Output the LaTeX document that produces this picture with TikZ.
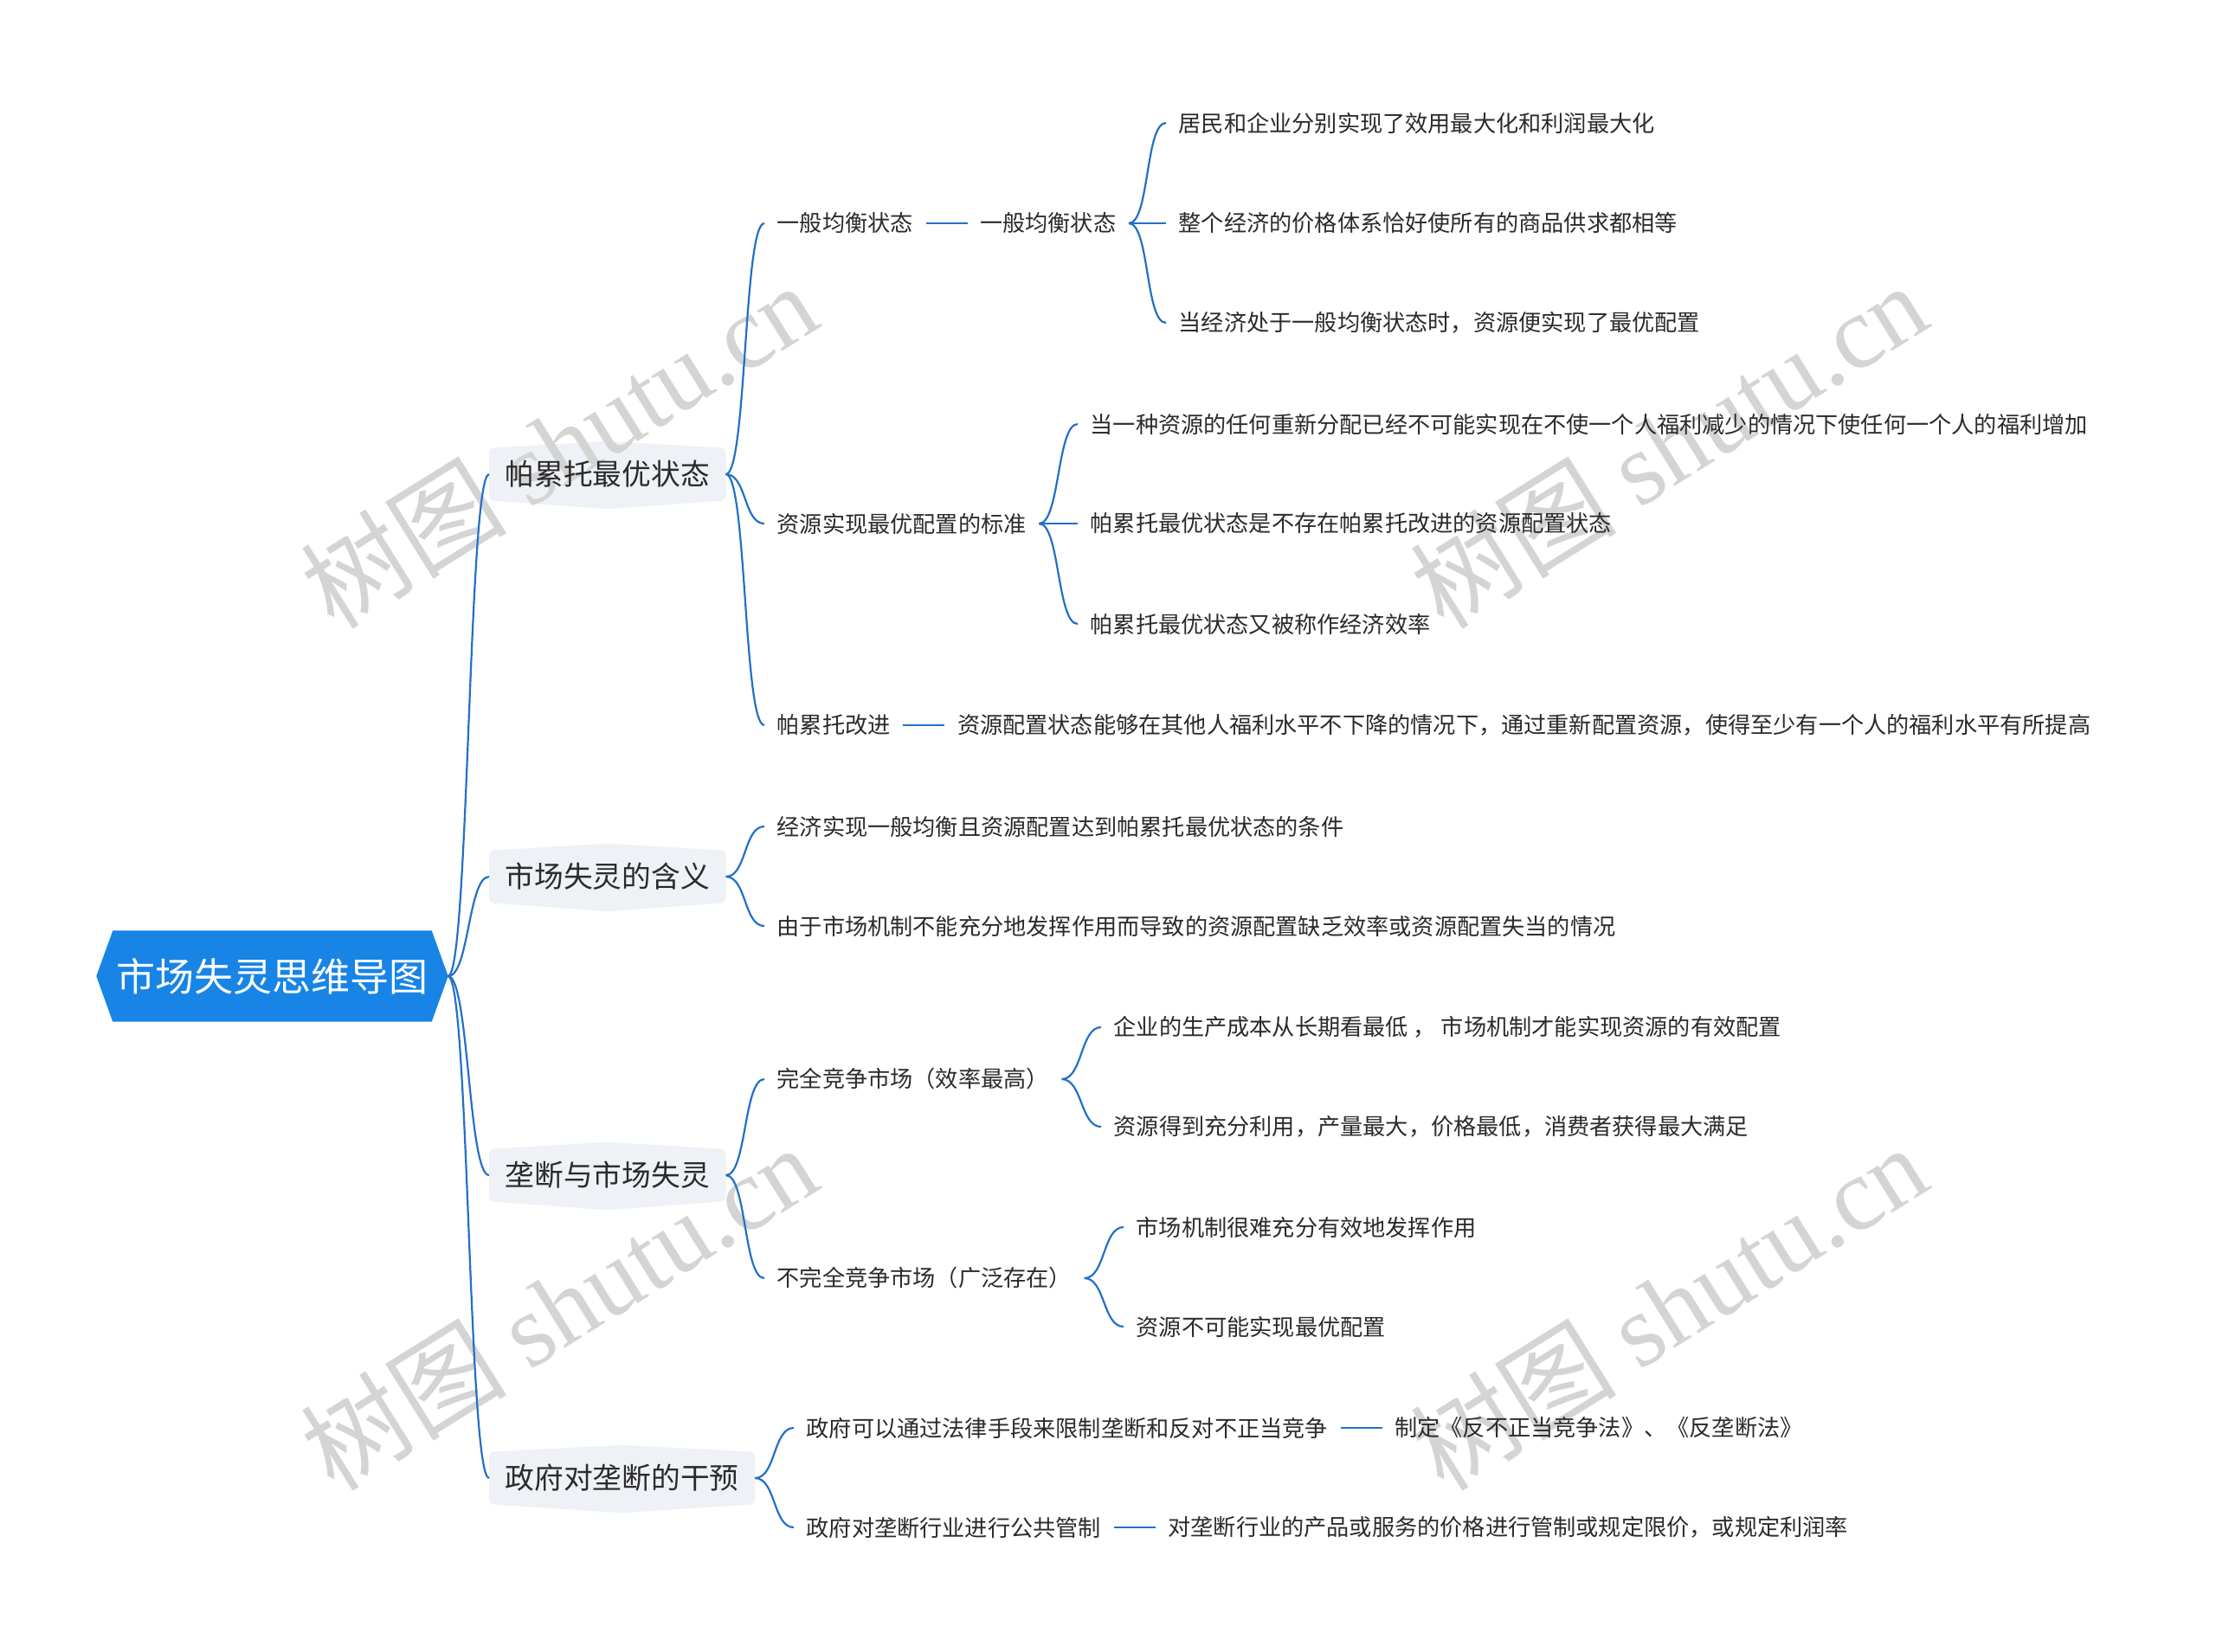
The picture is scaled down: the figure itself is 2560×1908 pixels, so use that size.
\documentclass[tikz,border=0pt]{standalone}
\usepackage{fontspec}
\newfontfamily\cjk{Noto Sans CJK SC}
\newfontfamily\wmserif{Liberation Serif}
\usetikzlibrary{positioning,calc,backgrounds}
\definecolor{rootblue}{HTML}{1784E6}
\definecolor{linkblue}{HTML}{2270C8}
\definecolor{topicgray}{HTML}{EEF1F5}
\definecolor{ink}{HTML}{2B2B2B}
\definecolor{wmgray}{HTML}{D4D4D4}

\begin{document}
\begin{tikzpicture}[
    x=0.1mm, y=-0.1mm,
    node distance=4.8mm,
    root/.style={minimum width=36.7mm, minimum height=10.4mm, inner sep=0pt, text=white, font=\cjk\fontsize{12.8}{15}\selectfont},
    topic/.style={anchor=west, minimum height=5.9mm, inner xsep=1.8mm, inner ysep=0pt, text=ink, font=\cjk\fontsize{9.6}{12}\selectfont},
    leaf/.style={anchor=west, inner xsep=1.4mm, inner ysep=0.4mm, text=ink, font=\cjk\fontsize{7.45}{9}\selectfont},
    link/.style={draw=linkblue, line width=0.22mm},
    branch/.style={link, to path={.. controls +(24,0) and +(-24,0) .. (\tikztotarget)}},
    wmark/.style={rotate=32, text=wmgray, font=\fontsize{34}{38}\selectfont}
]
\useasboundingbox (0,0) rectangle (2560,1908);

\node[wmark] (wm1) at (645,514) {\cjk 树图 \wmserif shutu.cn};
\node[wmark] (wm2) at (1927,514) {\cjk 树图 \wmserif shutu.cn};
\node[wmark] (wm3) at (645,1510) {\cjk 树图 \wmserif shutu.cn};
\node[wmark] (wm4) at (1927,1510) {\cjk 树图 \wmserif shutu.cn};

\node[root] (root) at (314.5,1128) {市场失灵思维导图};
\coordinate (tip) at ([xshift=1.9mm]root.east);

\node[topic] (p1) at (565,548) {帕累托最优状态};
\node[topic] (p2) at (565,1013) {市场失灵的含义};
\node[topic] (p3) at (565,1358) {垄断与市场失灵};
\node[topic] (p4) at (565,1708) {政府对垄断的干预};

\node[leaf] (a1) at (883,258) {一般均衡状态};
\node[leaf, right=of a1] (a1x) {一般均衡状态};
\node[leaf] (r1) at (1347,142) {居民和企业分别实现了效用最大化和利润最大化};
\node[leaf] (r2) at (1347,258) {整个经济的价格体系恰好使所有的商品供求都相等};
\node[leaf] (r3) at (1347,373) {当经济处于一般均衡状态时，资源便实现了最优配置};

\node[leaf] (a2) at (883,605) {资源实现最优配置的标准};
\node[leaf] (s1) at (1245,490) {当一种资源的任何重新分配已经不可能实现在不使一个人福利减少的情况下使任何一个人的福利增加};
\node[leaf] (s2) at (1245,605) {帕累托最优状态是不存在帕累托改进的资源配置状态};
\node[leaf] (s3) at (1245,721) {帕累托最优状态又被称作经济效率};

\node[leaf] (a3) at (883,838) {帕累托改进};
\node[leaf, right=of a3] (a3x) {资源配置状态能够在其他人福利水平不下降的情况下，通过重新配置资源，使得至少有一个人的福利水平有所提高};

\node[leaf] (b1) at (883,955) {经济实现一般均衡且资源配置达到帕累托最优状态的条件};
\node[leaf] (b2) at (883,1070) {由于市场机制不能充分地发挥作用而导致的资源配置缺乏效率或资源配置失当的情况};

\node[leaf] (c1) at (883,1247) {完全竞争市场（效率最高）};
\node[leaf] (t1) at (1272,1187) {企业的生产成本从长期看最低 ， 市场机制才能实现资源的有效配置};
\node[leaf] (t2) at (1272,1302) {资源得到充分利用，产量最大，价格最低，消费者获得最大满足};
\node[leaf] (c2) at (883,1477) {不完全竞争市场（广泛存在）};
\node[leaf] (u1) at (1298,1418) {市场机制很难充分有效地发挥作用};
\node[leaf] (u2) at (1298,1533) {资源不可能实现最优配置};

\node[leaf] (d1) at (917,1650) {政府可以通过法律手段来限制垄断和反对不正当竞争};
\node[leaf, right=of d1] (d1x) {制定《反不正当竞争法》、《反垄断法》};
\node[leaf] (d2) at (917,1765) {政府对垄断行业进行公共管制};
\node[leaf, right=of d2] (d2x) {对垄断行业的产品或服务的价格进行管制或规定限价，或规定利润率};

\begin{scope}[on background layer]
  \fill[white] (0,0) rectangle (2560,1908);
  \fill[rootblue] (root.north west) -- (root.north east) -- (tip) -- (root.south east) -- (root.south west) -- ([xshift=-1.9mm]root.west) -- cycle;
  \foreach \n in {p1,p2,p3,p4}
    \fill[topicgray, rounded corners=0.6mm] (\n.north west) -- ([yshift=0.8mm]\n.north) -- (\n.north east) -- (\n.south east) -- ([yshift=-1mm]\n.south) -- (\n.south west) -- cycle;
\end{scope}

\foreach \n in {p1,p2,p3,p4} \draw[branch] (tip) to (\n.west);
\foreach \n in {a1,a2,a3} \draw[branch] (p1.east) to (\n.west);
\foreach \n in {r1,r2,r3} \draw[branch] (a1x.east) to (\n.west);
\foreach \n in {s1,s2,s3} \draw[branch] (a2.east) to (\n.west);
\foreach \n in {b1,b2} \draw[branch] (p2.east) to (\n.west);
\foreach \n in {c1,c2} \draw[branch] (p3.east) to (\n.west);
\foreach \n in {t1,t2} \draw[branch] (c1.east) to (\n.west);
\foreach \n in {u1,u2} \draw[branch] (c2.east) to (\n.west);
\foreach \n in {d1,d2} \draw[branch] (p4.east) to (\n.west);
\draw[link] (a1.east) -- (a1x.west);
\draw[link] (a3.east) -- (a3x.west);
\draw[link] (d1.east) -- (d1x.west);
\draw[link] (d2.east) -- (d2x.west);
\end{tikzpicture}
\end{document}
